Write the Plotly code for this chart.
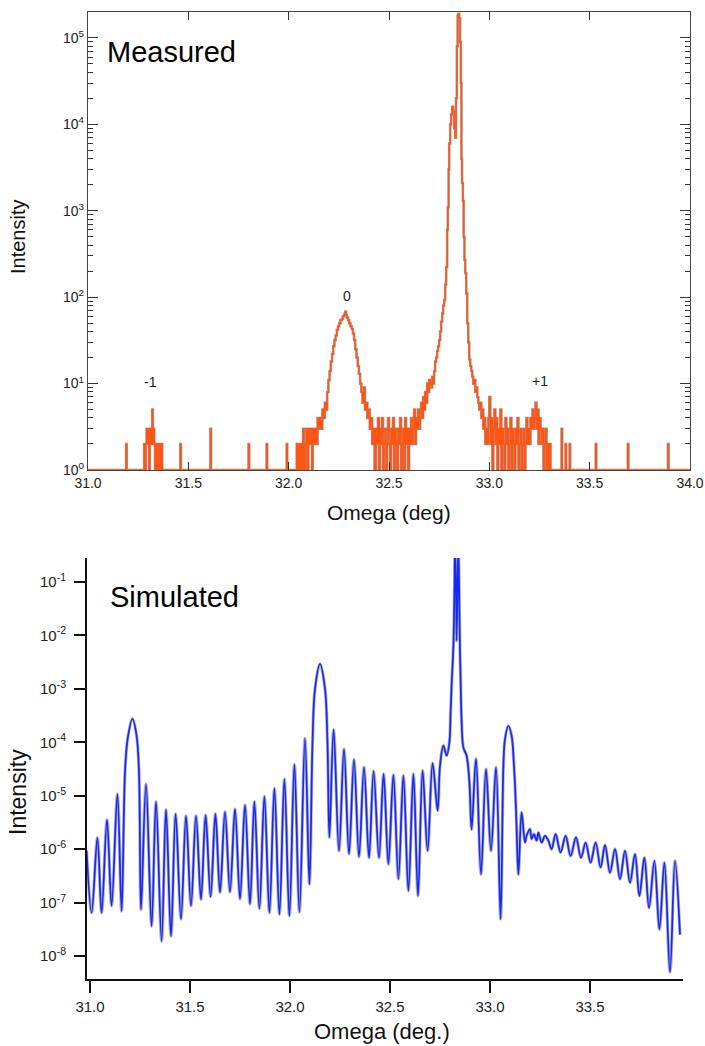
import plotly.graph_objects as go

W, H = 705, 1046

# ---------------- Measured data (omega in deg, counts) ----------------
meas_points = [
    (31.000, 1), (31.190, 2), (31.193, 1),
    (31.280, 2), (31.284, 1), (31.288, 2), (31.292, 3), (31.296, 2), (31.300, 3), (31.304, 1),
    (31.308, 2), (31.312, 3), (31.316, 2), (31.320, 5), (31.323, 2), (31.326, 3), (31.330, 2),
    (31.334, 1), (31.338, 2), (31.342, 1), (31.346, 2), (31.350, 2), (31.354, 1), (31.358, 2),
    (31.362, 1), (31.366, 2), (31.370, 1),
    (31.460, 2), (31.463, 1), (31.610, 3), (31.613, 1), (31.800, 2), (31.803, 1),
    (31.890, 2), (31.893, 1), (31.990, 2), (31.993, 1),
    (32.040, 2), (32.044, 1), (32.052, 2), (32.056, 1), (32.062, 2), (32.066, 1), (32.072, 3),
    (32.076, 1), (32.082, 2), (32.088, 3), (32.092, 1), (32.098, 3), (32.104, 2), (32.110, 3),
    (32.116, 1), (32.120, 3), (32.126, 2), (32.132, 3), (32.138, 2), (32.144, 4), (32.150, 3),
    (32.156, 4), (32.162, 3), (32.168, 5), (32.174, 4), (32.180, 6), (32.186, 5), (32.192, 8),
    (32.198, 11), (32.204, 14), (32.210, 18), (32.216, 22), (32.222, 27), (32.228, 32),
    (32.234, 36), (32.240, 42), (32.246, 46), (32.252, 50), (32.258, 54), (32.264, 56),
    (32.270, 60), (32.276, 63), (32.282, 68), (32.286, 62), (32.290, 58), (32.296, 54),
    (32.302, 50), (32.308, 46), (32.314, 43), (32.320, 38), (32.326, 32), (32.332, 25),
    (32.338, 20), (32.344, 16), (32.350, 13), (32.356, 10), (32.362, 8), (32.368, 6),
    (32.374, 9), (32.380, 5), (32.386, 6), (32.392, 4), (32.398, 5), (32.404, 3), (32.410, 4),
    (32.416, 2), (32.422, 3), (32.428, 1),
    (32.435, 3), (32.440, 2), (32.445, 4), (32.450, 1), (32.455, 3), (32.460, 2), (32.465, 4),
    (32.470, 1), (32.475, 2), (32.480, 3), (32.485, 1), (32.490, 2), (32.495, 4), (32.500, 2),
    (32.505, 1), (32.510, 3), (32.515, 2), (32.520, 4), (32.525, 1), (32.530, 3), (32.535, 2),
    (32.540, 1), (32.545, 3), (32.550, 2), (32.555, 4), (32.560, 1), (32.565, 2), (32.570, 3),
    (32.575, 1), (32.580, 4), (32.585, 2), (32.590, 3), (32.595, 1), (32.600, 3), (32.605, 2),
    (32.610, 4), (32.615, 2), (32.620, 3), (32.625, 5), (32.630, 2), (32.635, 4), (32.640, 3),
    (32.645, 5), (32.650, 3), (32.655, 4), (32.660, 6), (32.665, 4), (32.670, 7), (32.675, 5),
    (32.680, 8), (32.685, 6), (32.690, 10), (32.695, 8), (32.700, 11), (32.705, 10),
    (32.710, 9), (32.715, 12), (32.720, 10), (32.725, 14), (32.730, 18), (32.735, 20),
    (32.740, 24), (32.745, 27), (32.750, 32), (32.755, 40), (32.760, 52), (32.765, 65),
    (32.770, 80), (32.775, 93), (32.780, 140), (32.785, 224), (32.790, 600), (32.793, 1100),
    (32.797, 3000), (32.800, 6000), (32.805, 10000), (32.810, 13000), (32.815, 16000),
    (32.820, 14000), (32.825, 9000), (32.830, 7000), (32.834, 20000), (32.838, 80000),
    (32.842, 180000), (32.846, 190000), (32.850, 170000), (32.854, 90000), (32.858, 30000),
    (32.861, 4000), (32.864, 2100), (32.868, 1300), (32.872, 500), (32.876, 270),
    (32.880, 190), (32.885, 110), (32.890, 50), (32.895, 30), (32.900, 19), (32.905, 16),
    (32.910, 14), (32.915, 12), (32.920, 10), (32.925, 11), (32.930, 8), (32.935, 9),
    (32.940, 7), (32.945, 6), (32.950, 5), (32.955, 6), (32.960, 4), (32.965, 5), (32.970, 3),
    (32.975, 4), (32.980, 2), (32.985, 3), (32.990, 2), (32.995, 4),
    (33.000, 7), (33.005, 2), (33.010, 4), (33.015, 1), (33.020, 3), (33.025, 5), (33.030, 2),
    (33.035, 4), (33.040, 1), (33.045, 3), (33.050, 2), (33.055, 5), (33.060, 1), (33.065, 3),
    (33.070, 2), (33.075, 1), (33.080, 4), (33.085, 2), (33.090, 3), (33.095, 1), (33.100, 2),
    (33.105, 4), (33.110, 1), (33.115, 3), (33.120, 2), (33.125, 1), (33.130, 3), (33.135, 2),
    (33.140, 4), (33.145, 1), (33.150, 2), (33.155, 3), (33.160, 1), (33.165, 2), (33.170, 3),
    (33.175, 1), (33.180, 2), (33.185, 4), (33.190, 2), (33.195, 3), (33.200, 2), (33.205, 4),
    (33.210, 3), (33.215, 5), (33.220, 3), (33.225, 4), (33.230, 6), (33.235, 3), (33.240, 5),
    (33.245, 2), (33.250, 4), (33.255, 3), (33.260, 2), (33.265, 3), (33.270, 1), (33.275, 2),
    (33.280, 3), (33.285, 1), (33.290, 2), (33.295, 1), (33.300, 2), (33.305, 1),
    (33.360, 3), (33.363, 1), (33.380, 2), (33.383, 1), (33.400, 2), (33.403, 1),
    (33.530, 2), (33.533, 1), (33.690, 2), (33.693, 1), (33.890, 2), (33.893, 1), (34.000, 1),
]
meas_omega = [p[0] for p in meas_points]
meas_counts = [p[1] for p in meas_points]

# ---------------- Simulated data (omega in deg, log10 intensity) ----------------
sim_points = [
    (30.983, -6.03), (31.008, -7.19), (31.037, -5.79), (31.058, -7.19), (31.085, -5.45),
    (31.108, -7.06), (31.137, -4.97), (31.158, -7.16), (31.175, -4.56), (31.188, -3.94),
    (31.212, -3.56), (31.233, -3.875), (31.245, -4.56), (31.255, -7.13), (31.280, -4.78),
    (31.308, -7.44), (31.330, -5.11), (31.358, -7.72), (31.380, -5.26), (31.405, -7.63),
    (31.428, -5.34), (31.455, -7.31), (31.480, -5.375), (31.505, -7.06), (31.530, -5.375),
    (31.555, -6.94), (31.578, -5.36), (31.603, -6.89), (31.627, -5.34), (31.650, -6.81),
    (31.675, -5.30), (31.700, -6.80), (31.725, -5.25), (31.750, -6.93), (31.775, -5.175),
    (31.800, -7.03), (31.822, -5.11), (31.847, -7.11), (31.872, -5.01), (31.897, -7.19),
    (31.922, -4.86), (31.947, -7.22), (31.972, -4.69), (31.997, -7.25), (32.022, -4.41),
    (32.047, -7.175), (32.075, -3.925), (32.097, -6.66), (32.113, -3.94), (32.125, -3.00),
    (32.150, -2.53), (32.175, -3.00), (32.187, -3.94), (32.197, -5.78), (32.218, -3.76),
    (32.245, -6.03), (32.270, -4.125), (32.295, -6.09), (32.320, -4.325), (32.345, -6.14),
    (32.370, -4.47), (32.395, -6.16), (32.418, -4.54), (32.445, -6.16), (32.468, -4.59),
    (32.492, -6.28), (32.517, -4.61), (32.542, -6.56), (32.567, -4.625), (32.592, -6.78),
    (32.617, -4.59), (32.640, -6.875), (32.663, -4.53), (32.688, -6.03), (32.713, -4.39),
    (32.738, -5.28), (32.750, -4.44), (32.767, -4.06), (32.783, -4.25), (32.797, -4.00),
    (32.803, -3.44), (32.808, -2.94), (32.817, -2.19), (32.822, -1.20), (32.825, -0.30),
    (32.830, -1.00), (32.833, -2.10), (32.838, -1.00), (32.842, -0.30), (32.847, -1.50),
    (32.850, -2.30), (32.853, -2.80), (32.858, -3.60), (32.867, -4.10), (32.883, -4.25),
    (32.897, -4.75), (32.908, -5.63), (32.930, -4.31), (32.955, -6.47), (32.980, -4.50),
    (33.005, -6.03), (33.030, -4.47), (33.053, -7.31), (33.067, -4.44), (33.075, -3.94),
    (33.092, -3.69), (33.108, -3.875), (33.120, -4.44), (33.130, -5.25), (33.142, -6.47),
    (33.158, -5.31), (33.175, -5.875), (33.183, -5.75), (33.200, -5.625), (33.208, -5.81),
    (33.220, -5.72), (33.233, -5.84), (33.242, -5.69), (33.258, -5.875), (33.275, -5.75),
    (33.292, -5.84), (33.308, -6.00), (33.328, -5.72), (33.353, -6.06), (33.378, -5.75),
    (33.403, -6.125), (33.430, -5.78), (33.455, -6.16), (33.478, -5.875), (33.503, -6.25),
    (33.528, -5.875), (33.553, -6.34), (33.575, -5.925), (33.600, -6.44), (33.625, -6.00),
    (33.650, -6.56), (33.675, -6.03), (33.700, -6.625), (33.725, -6.09), (33.747, -6.875),
    (33.772, -6.16), (33.795, -7.10), (33.822, -6.22), (33.847, -7.50), (33.872, -6.25),
    (33.900, -8.30), (33.925, -6.22), (33.950, -7.60),
]
sim_omega = [p[0] for p in sim_points]
sim_log10_intensity = [p[1] for p in sim_points]
sim_intensity = [10 ** v for v in sim_log10_intensity]

top_x_ticks = [31.0, 31.5, 32.0, 32.5, 33.0, 33.5, 34.0]
top_y_ticks = [1, 10, 100, 1000, 10000, 100000]
top_y_text = ["10<sup>0</sup>", "10<sup>1</sup>", "10<sup>2</sup>", "10<sup>3</sup>",
              "10<sup>4</sup>", "10<sup>5</sup>"]
bot_x_ticks = [31.0, 31.5, 32.0, 32.5, 33.0, 33.5]
bot_y_ticks = [1e-1, 1e-2, 1e-3, 1e-4, 1e-5, 1e-6, 1e-7, 1e-8]
bot_y_text = ["10<sup>-1</sup>", "10<sup>-2</sup>", "10<sup>-3</sup>", "10<sup>-4</sup>",
              "10<sup>-5</sup>", "10<sup>-6</sup>", "10<sup>-7</sup>", "10<sup>-8</sup>"]

FONT = "Liberation Sans, Arial, sans-serif"
ORANGE = "#ff5414"
BLUE = "#1626ff"

def px_x(p):
    return p / W

def px_y(p):
    return 1 - p / H

fig = go.Figure()

# Measured: gray shadow then orange
fig.add_trace(go.Scatter(x=meas_omega, y=meas_counts, mode="lines", line_shape="hv",
                         line=dict(color="rgba(140,140,140,0.8)", width=2.6),
                         xaxis="x", yaxis="y", hoverinfo="skip", showlegend=False))
fig.add_trace(go.Scatter(x=meas_omega, y=meas_counts, mode="lines", line_shape="hv",
                         line=dict(color=ORANGE, width=1.5),
                         xaxis="x", yaxis="y", showlegend=False))

# Simulated: gray shadow then blue
fig.add_trace(go.Scatter(x=sim_omega, y=sim_intensity, mode="lines", line_shape="spline",
                         line=dict(color="rgba(150,150,150,0.7)", width=3.2, smoothing=1.0),
                         xaxis="x2", yaxis="y2", hoverinfo="skip", showlegend=False))
fig.add_trace(go.Scatter(x=sim_omega, y=sim_intensity, mode="lines", line_shape="spline",
                         line=dict(color=BLUE, width=1.7, smoothing=1.0),
                         xaxis="x2", yaxis="y2", showlegend=False))

fig.update_layout(
    template="none",
    width=W, height=H,
    margin=dict(l=0, r=0, t=0, b=0, pad=0, autoexpand=False),
    paper_bgcolor="white", plot_bgcolor="white",
    font=dict(family=FONT, color="#111"),
    xaxis=dict(domain=[px_x(88), px_x(690)], range=[31.0, 34.0], anchor="y",
               automargin=False,
               tickvals=top_x_ticks, tickformat=".1f", ticks="inside", ticklen=8,
               tickcolor="#333", showline=True, linecolor="#444", linewidth=1.3,
               mirror="allticks", showgrid=False, zeroline=False,
               tickfont=dict(family=FONT, size=14, color="#222")),
    yaxis=dict(domain=[px_y(470), px_y(12)], type="log", range=[0, 5.3], anchor="x",
               automargin=False,
               tickvals=top_y_ticks, ticktext=top_y_text, ticks="inside", ticklen=10,
               tickcolor="#333", showline=True, linecolor="#444", linewidth=1.3,
               mirror="allticks", showgrid=False, zeroline=False,
               minor=dict(ticks="inside", ticklen=5, dtick="D1", tickcolor="#333",
                          showgrid=False),
               tickfont=dict(family=FONT, size=14, color="#222")),
    xaxis2=dict(domain=[px_x(87), px_x(683)], range=[30.985, 33.965], anchor="y2",
                automargin=False, ticklabelstandoff=1,
                tickvals=bot_x_ticks, tickformat=".1f", ticks="outside", ticklen=12,
                tickwidth=1.5, tickcolor="#111", showline=True, linecolor="#111",
                linewidth=2, showgrid=False, zeroline=False,
                tickfont=dict(family=FONT, size=15, color="#222")),
    yaxis2=dict(domain=[px_y(979), px_y(558)], type="log", range=[-8.43, -0.55],
                anchor="x2", automargin=False, ticklabelstandoff=5,
                tickvals=bot_y_ticks, ticktext=bot_y_text, ticks="outside",
                ticklen=11, tickwidth=1.5, tickcolor="#111", showline=True,
                linecolor="#111", linewidth=2, showgrid=False, zeroline=False,
                tickfont=dict(family=FONT, size=15, color="#222")),
    annotations=[
        dict(text="Measured", x=px_x(105), y=px_y(52), xref="paper", yref="paper",
             xanchor="left", yanchor="middle", showarrow=False,
             font=dict(family=FONT, size=29, color="#000")),
        dict(text="Simulated", x=px_x(108), y=px_y(597), xref="paper", yref="paper",
             xanchor="left", yanchor="middle", showarrow=False,
             font=dict(family=FONT, size=29, color="#000")),
        dict(text="Intensity", x=px_x(18), y=px_y(237), xref="paper", yref="paper",
             textangle=-90, xanchor="center", yanchor="middle", showarrow=False,
             font=dict(family=FONT, size=20, color="#111")),
        dict(text="Intensity", x=px_x(18), y=px_y(792), xref="paper", yref="paper",
             textangle=-90, xanchor="center", yanchor="middle", showarrow=False,
             font=dict(family=FONT, size=23, color="#111")),
        dict(text="Omega (deg)", x=px_x(389), y=px_y(512), xref="paper", yref="paper",
             xanchor="center", yanchor="middle", showarrow=False,
             font=dict(family=FONT, size=21, color="#111")),
        dict(text="Omega (deg.)", x=px_x(382), y=px_y(1031), xref="paper", yref="paper",
             xanchor="center", yanchor="middle", showarrow=False,
             font=dict(family=FONT, size=22, color="#111")),
        dict(text="-1", x=31.31, y=1.02, xref="x", yref="y", showarrow=False,
             font=dict(family=FONT, size=14, color="#222")),
        dict(text="0", x=32.29, y=2.01, xref="x", yref="y", showarrow=False,
             font=dict(family=FONT, size=14, color="#222")),
        dict(text="+1", x=33.25, y=1.03, xref="x", yref="y", showarrow=False,
             font=dict(family=FONT, size=14, color="#222")),
    ],
)

fig.write_html("out.html")
